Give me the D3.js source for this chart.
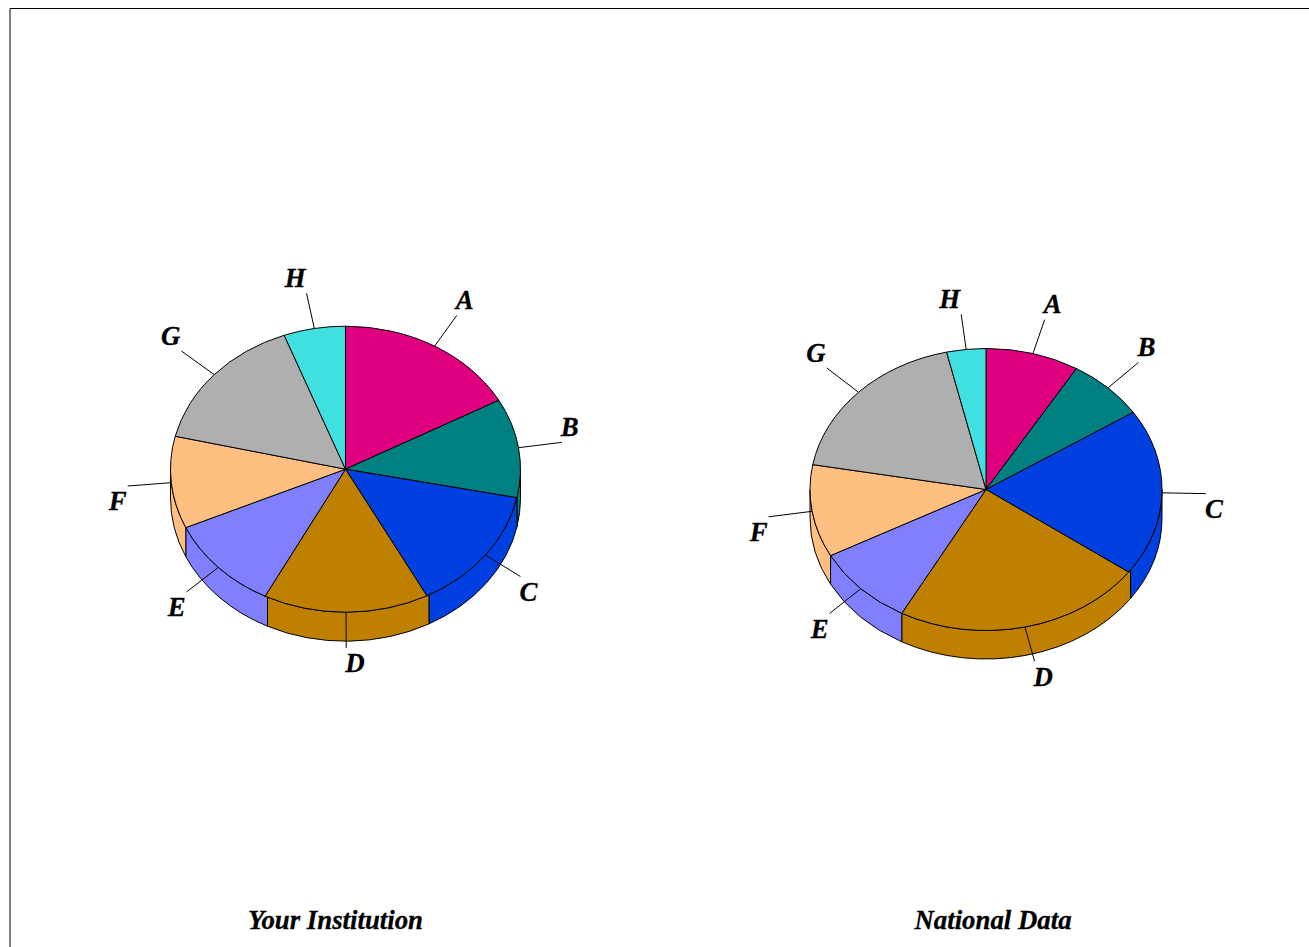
<!DOCTYPE html>
<html>
<head>
<meta charset="utf-8">
<script src="https://cdn.jsdelivr.net/npm/d3@7"></script>
<style>
html,body{margin:0;padding:0;background:#fff;overflow:hidden}
svg{display:block}
text{font-family:"Liberation Serif","Times New Roman",serif;font-weight:bold;font-style:italic;fill:#000;stroke:#000;stroke-width:.3px}
</style>
</head>
<body>
<svg id="chart" width="1309" height="947"></svg>
<script>
const categories = ["A","B","C","D","E","F","G","H"];
const colors = ["#E0007F","#008080","#0040E0","#BF8000","#8080FF","#FFBF80","#AFAFAF","#40E0E0"];
const yourInstitution = [17.0,11.2,14.1,15.3,10.7,10.4,15.6,5.7];
const nationalData = [8.6,7.2,19.2,23.0,9.3,10.6,18.6,3.6];
const titles = ["Your Institution","National Data"];
// the wall seams sit slightly off the top-face boundaries (degrees, end of each slice)
const yourSeamShift = [0,0,-0.75,-0.9,0,0,0,0];
const nationalSeamShift = [0,0,-1.1,0,0,0,0,0];

const layouts = [
  {values:yourInstitution, seams:yourSeamShift, title:titles[0], cx:345.5, cy:469.2, rx:175, ry:143, depth:29, titleX:335.5},
  {values:nationalData, seams:nationalSeamShift, title:titles[1], cx:986, cy:489.5, rx:176, ry:141, depth:28.5, titleX:993}
];
const leaderReach = 1.25, labelGap = 15.2, labelShift = -1, labelSize = 26.8, titleSize = 26.8, titleY = 928.5;

const svg = d3.select("#chart");
svg.append("path").attr("d","M10,947V8.5H1309").attr("fill","none").attr("stroke","#000").attr("stroke-width",1);

const pie = d3.pie().sort(null).value(d=>d);
const half = Math.PI/2, rad = Math.PI/180;

layouts.forEach(L=>{
  const x = d3.scaleLinear().domain([-1,1]).range([L.cx-L.rx,L.cx+L.rx]);
  const y = d3.scaleLinear().domain([-1,1]).range([L.cy-L.ry,L.cy+L.ry]);
  const px = (t,k=1)=>x(k*Math.sin(t));
  const py = (t,k=1)=>y(-k*Math.cos(t));
  const arcs = pie(L.values).map((d,i)=>({...d,i,mid:(d.startAngle+d.endAngle)/2,
    wallStart:d.startAngle+(i?L.seams[i-1]:0)*rad, wallEnd:d.endAngle+L.seams[i]*rad}));
  const g = svg.append("g");

  // side wall: only the part facing the viewer
  g.selectAll("path.wall").data(arcs.filter(d=>d.wallEnd>half && d.wallStart<3*half)).join("path")
    .attr("class","wall")
    .attr("fill",d=>colors[d.i]).attr("stroke","#000").attr("stroke-width",1).attr("stroke-linejoin","round")
    .attr("d",d=>{
      const a=Math.max(d.wallStart,half), b=Math.min(d.wallEnd,3*half);
      const arc=(to,dy,cw)=>`A${L.rx},${L.ry} 0 0 ${cw?1:0} ${px(to)},${py(to)+dy}`;
      return `M${px(a)},${py(a)}`+arc(b,0,true)+`L${px(b)},${py(b)+L.depth}`+arc(a,L.depth,false)+"Z";
    });

  // leader lines
  g.selectAll("line.leader").data(arcs).join("line")
    .attr("class","leader").attr("stroke","#000").attr("stroke-width",1)
    .attr("x1",d=>px(d.mid)).attr("y1",d=>py(d.mid))
    .attr("x2",d=>px(d.mid,leaderReach)).attr("y2",d=>py(d.mid,leaderReach));

  // top face
  g.selectAll("path.top").data(arcs).join("path")
    .attr("class","top")
    .attr("fill",d=>colors[d.i]).attr("stroke","#000").attr("stroke-width",1).attr("stroke-linejoin","round")
    .attr("d",d=>`M${L.cx},${L.cy}L${px(d.startAngle)},${py(d.startAngle)}A${L.rx},${L.ry} 0 ${d.endAngle-d.startAngle>Math.PI?1:0} 1 ${px(d.endAngle)},${py(d.endAngle)}Z`);

  // labels
  g.selectAll("text.lab").data(arcs).join("text")
    .attr("class","lab").attr("dominant-baseline","central")
    .attr("text-anchor",d=>Math.sin(d.mid)>=0?"start":"end")
    .attr("font-size",labelSize)
    .attr("x",d=>px(d.mid,leaderReach)+labelShift)
    .attr("y",d=>py(d.mid,leaderReach)+(Math.cos(d.mid)>=0?-labelGap:labelGap))
    .text(d=>categories[d.i]);

  svg.append("text").attr("x",L.titleX).attr("y",titleY).attr("text-anchor","middle")
    .attr("font-size",titleSize).text(L.title);
});
</script>
</body>
</html>
